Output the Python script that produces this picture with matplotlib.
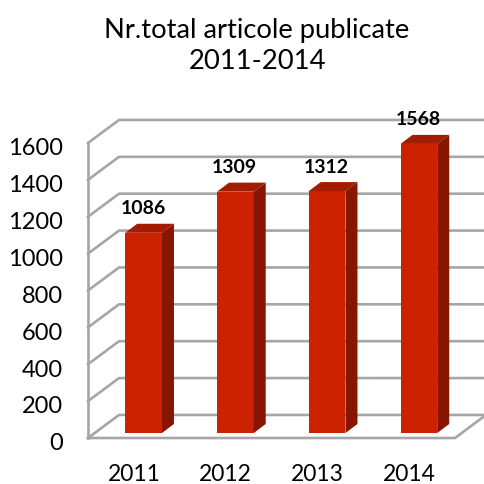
import matplotlib
matplotlib.use('Agg')
import matplotlib.pyplot as plt
from matplotlib.patches import Polygon
from matplotlib.transforms import ScaledTranslation

plt.rcParams['font.family'] = ['Lato', 'DejaVu Sans']

years = ['2011', '2012', '2013', '2014']
articles = [1086, 1309, 1312, 1568]
y_ticks = [0, 200, 400, 600, 800, 1000, 1200, 1400, 1600]

# fake 3d depths, in data units
wall_dx, wall_dy = 0.338, 125
front_dx, front_dy = 0.106, 27
bar_dx, bar_dy = 0.131, 49
bar_width = 0.40

grid_color = '#a6a6a6'
front_color = '#cc2200'
top_color = '#a31b00'
side_color = '#881500'
line_w = 1.9

fig = plt.figure(figsize=(4.84, 4.85), dpi=100)
ax = fig.add_axes([88 / 484, 1 - 439 / 485, 367 / 484, 295 / 485])
ax.set_xlim(-0.5, 3.5)
ax.set_ylim(0, 1600)
for spine in ax.spines.values():
    spine.set_visible(False)

left, right = ax.get_xlim()

# walls: back lines with the diagonals to the front wall
for tick in y_ticks:
    ax.plot([left, left + wall_dx, right + wall_dx],
            [tick, tick + wall_dy, tick + wall_dy],
            color=grid_color, lw=line_w, clip_on=False, zorder=1)
ax.plot([left, left], [0, 1600], color=grid_color, lw=line_w, clip_on=False, zorder=1)
ax.plot([left, right, right + wall_dx], [0, 0, wall_dy],
        color=grid_color, lw=line_w, clip_on=False, zorder=1)

# bars
for i, value in enumerate(articles):
    x0 = i + front_dx - bar_width / 2
    x1 = x0 + bar_width
    base = front_dy
    top = value + front_dy
    ax.bar(x0 + bar_width / 2, value, bar_width, bottom=base, color=front_color,
           zorder=3, clip_on=False)
    ax.add_patch(Polygon([(x0, top), (x1, top), (x1 + bar_dx, top + bar_dy),
                          (x0 + bar_dx, top + bar_dy)],
                         closed=True, color=top_color, lw=0, zorder=3, clip_on=False))
    ax.add_patch(Polygon([(x1, base), (x1 + bar_dx, base + bar_dy),
                          (x1 + bar_dx, top + bar_dy), (x1, top)],
                         closed=True, color=side_color, lw=0, zorder=3, clip_on=False))
    ax.text(i + 0.1, top + bar_dy + 87, str(value), ha='center', va='center',
            fontsize=14, fontweight='bold', color='black', zorder=4, clip_on=False)

ax.set_xticks(range(len(years)))
ax.set_xticklabels(years, fontsize=16.5)
ax.set_yticks(y_ticks)
ax.set_yticklabels([str(t) for t in y_ticks], fontsize=17)
ax.tick_params(axis='x', length=0, pad=18, colors='black')
ax.tick_params(axis='y', length=0, pad=18, colors='black')

# y labels sit a bit below their lines in the original
shift = ScaledTranslation(0, -2 / 72, fig.dpi_scale_trans)
for label in ax.get_yticklabels():
    label.set_transform(label.get_transform() + shift)

fig.text(257 / 484, 1 - 46 / 485, 'Nr.total articole publicate\n2011-2014',
         ha='center', va='center', fontsize=19.7, linespacing=1.3)

fig.savefig('out.png', dpi=100)
